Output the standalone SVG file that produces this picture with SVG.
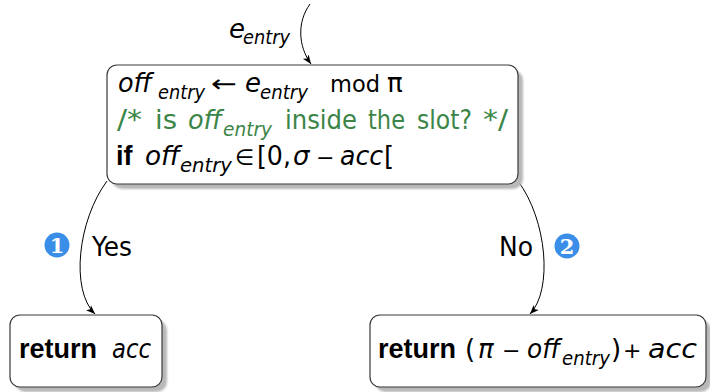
<svg xmlns="http://www.w3.org/2000/svg" width="710" height="392" viewBox="0 0 710 392">
  <defs>
    <marker id="head" viewBox="0 0 10 10" refX="10" refY="5" markerWidth="9" markerHeight="9" markerUnits="userSpaceOnUse" orient="auto">
      <path d="M0,1 L10,5 L0,9 L2.5,5 Z" fill="#000"/>
    </marker>
    <filter id="soft" x="-5%" y="-5%" width="115%" height="120%">
      <feGaussianBlur stdDeviation="0.8"/>
    </filter>
  </defs>
  <style>
    .box { fill: #fff; stroke: #3a3a3a; stroke-width: 1.2; }
    .shadow { fill: #b8b8b8; filter: url(#soft); }
    .t { font-family: "DejaVu Sans", "Liberation Sans", sans-serif; font-size: 26px; fill: #000; }
    .it { font-style: italic; }
    .b { font-family: "Liberation Sans", "DejaVu Sans", sans-serif; font-weight: bold; font-size: 27px; }
    .sub { font-size: 19px; font-style: italic; }
    .sym { font-size: 24px; }
    .op { font-size: 22px; }
    .green { fill: #3b8548; }
    .edge { fill: none; stroke: #000; stroke-width: 1; marker-end: url(#head); }
    .badge { fill: #3a8ee8; }
    .digit { font-family: "DejaVu Serif", "Liberation Serif", serif; font-size: 21px; font-weight: bold; fill: #fff; text-anchor: middle; }
  </style>

  <rect width="710" height="392" fill="#fff"/>

  <!-- connectors -->
  <g id="connectors">
    <path class="edge" d="M310,4 C297,22 298,46 311,64"/>
    <path class="edge" d="M107,181 C78,220 70,290 95,314"/>
    <path class="edge" d="M518,181 C547,220 553,290 530,314"/>
    <text class="t it" x="229" y="38">e</text>
    <text class="t sub" x="243" y="44" textLength="47" lengthAdjust="spacingAndGlyphs">entry</text>
    <g id="label-yes">
      <circle class="badge" cx="57" cy="245" r="12.5"/>
      <text class="digit" x="57" y="252.5">1</text>
      <text class="t" x="92" y="256" textLength="40" lengthAdjust="spacingAndGlyphs">Yes</text>
    </g>
    <g id="label-no">
      <text class="t" x="499" y="256" textLength="34" lengthAdjust="spacingAndGlyphs">No</text>
      <circle class="badge" cx="567" cy="246" r="12.5"/>
      <text class="digit" x="567" y="253.5">2</text>
    </g>
  </g>

  <!-- decision node -->
  <g id="test">
    <rect class="shadow" x="112" y="70" width="411" height="119" rx="10"/>
    <rect class="box" x="107" y="65" width="411" height="119" rx="10"/>
    <!-- line 1 -->
    <text class="t it" x="118" y="92" textLength="34" lengthAdjust="spacingAndGlyphs">off</text>
    <text class="t sub" x="158" y="99" textLength="47" lengthAdjust="spacingAndGlyphs">entry</text>
    <text class="t sym" x="211" y="92" textLength="26" lengthAdjust="spacingAndGlyphs">←</text>
    <text class="t it" x="245" y="92">e</text>
    <text class="t sub" x="260" y="99" textLength="48" lengthAdjust="spacingAndGlyphs">entry</text>
    <text class="t" x="330" y="92" style="font-size:22.5px">mod</text>
    <text class="t" x="387" y="92">π</text>
    <!-- line 2: comment -->
    <g class="green">
      <text class="t green" x="117" y="129" textLength="25" lengthAdjust="spacingAndGlyphs">/*</text>
      <text class="t green" x="155" y="129" textLength="22" lengthAdjust="spacingAndGlyphs">is</text>
      <text class="t it green" x="188" y="129" textLength="34" lengthAdjust="spacingAndGlyphs">off</text>
      <text class="t sub green" x="223" y="136" textLength="49" lengthAdjust="spacingAndGlyphs">entry</text>
      <text class="t green" x="285" y="129" textLength="72" lengthAdjust="spacingAndGlyphs">inside</text>
      <text class="t green" x="368" y="129" textLength="37" lengthAdjust="spacingAndGlyphs">the</text>
      <text class="t green" x="417" y="129" textLength="55" lengthAdjust="spacingAndGlyphs">slot?</text>
      <text class="t green" x="483" y="129" textLength="25" lengthAdjust="spacingAndGlyphs">*/</text>
    </g>
    <!-- line 3 -->
    <text class="t b" x="116" y="165">if</text>
    <text class="t it" x="145" y="165" textLength="35" lengthAdjust="spacingAndGlyphs">off</text>
    <text class="t sub" x="180" y="172" textLength="52" lengthAdjust="spacingAndGlyphs">entry</text>
    <text class="t op" x="235" y="165">∈</text>
    <text class="t" x="257" y="165" textLength="34" lengthAdjust="spacingAndGlyphs">[0,</text>
    <text class="t it" x="293" y="165">σ</text>
    <text class="t op" x="316" y="165">−</text>
    <text class="t it" x="340" y="165" textLength="43" lengthAdjust="spacingAndGlyphs">acc</text>
    <text class="t" x="384" y="165">[</text>
  </g>

  <!-- yes branch result -->
  <g id="ret-acc">
    <rect class="shadow" x="15" y="320" width="152" height="72" rx="10"/>
    <rect class="box" x="10" y="315" width="152" height="72" rx="10"/>
    <text class="t b" x="19" y="358">return</text>
    <text class="t it" x="112" y="358" textLength="39" lengthAdjust="spacingAndGlyphs">acc</text>
  </g>

  <!-- no branch result -->
  <g id="ret-wrap">
    <rect class="shadow" x="375" y="320" width="336" height="72" rx="10"/>
    <rect class="box" x="370" y="315" width="336" height="72" rx="10"/>
    <text class="t b" x="378" y="358">return</text>
    <text class="t" x="465" y="358">(</text>
    <text class="t it" x="478" y="358">π</text>
    <text class="t op" x="502" y="358">−</text>
    <text class="t it" x="527" y="358" textLength="33" lengthAdjust="spacingAndGlyphs">off</text>
    <text class="t sub" x="562" y="365" textLength="48" lengthAdjust="spacingAndGlyphs">entry</text>
    <text class="t" x="611" y="358">)</text>
    <text class="t op" x="623" y="358">+</text>
    <text class="t it" x="648" y="358" textLength="49" lengthAdjust="spacingAndGlyphs">acc</text>
  </g>
</svg>
